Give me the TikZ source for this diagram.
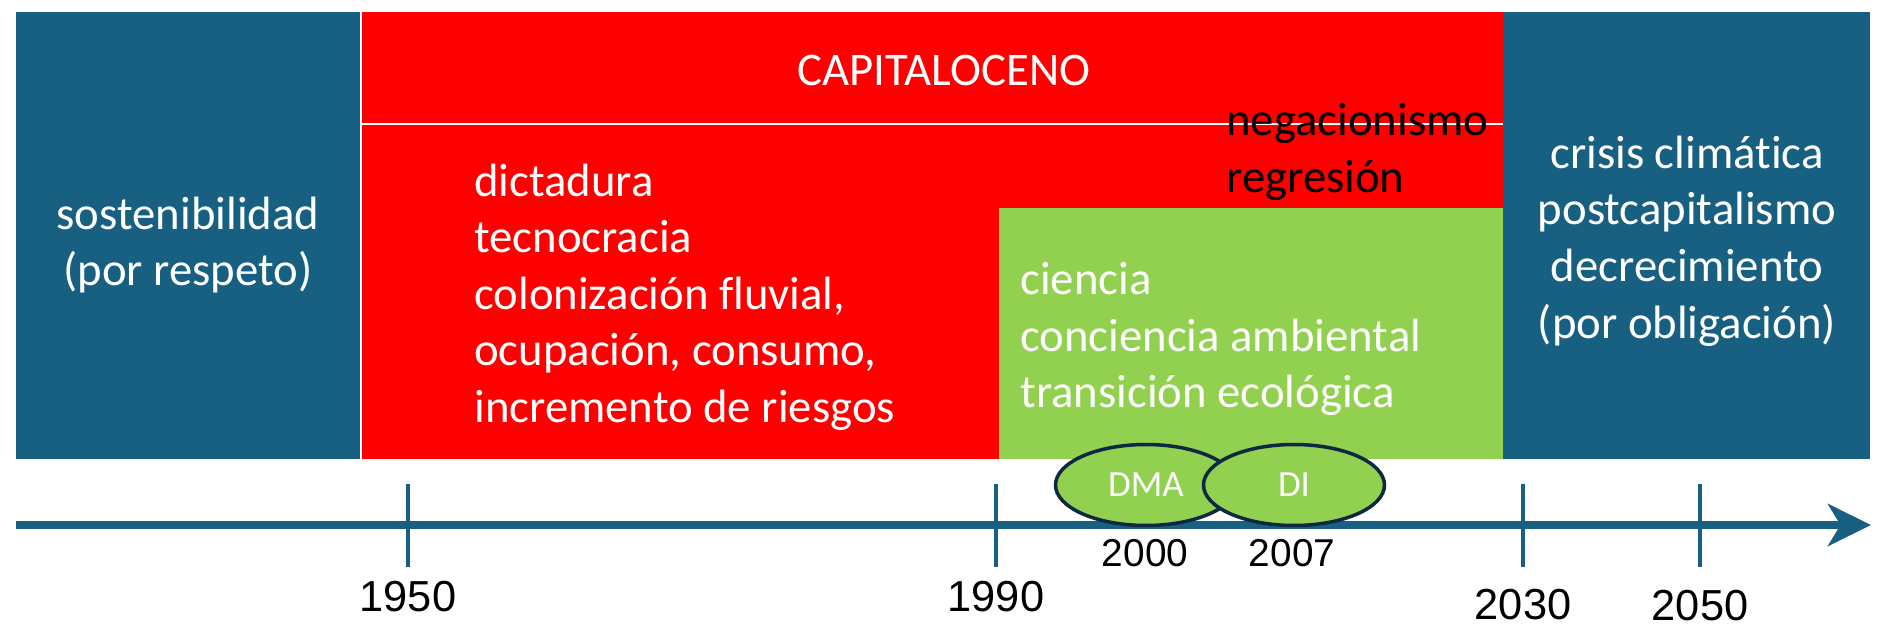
\documentclass[tikz,border=0pt]{standalone}
\usepackage{fontspec}
\setmainfont{Carlito}[Ligatures=NoCommon]
\newfontfamily\yearfont{Liberation Sans}
\usetikzlibrary{arrows.meta, shapes.geometric, fit, positioning}
\definecolor{deepblue}{RGB}{24,96,130}
\definecolor{capred}{RGB}{255,0,0}
\definecolor{leaf}{RGB}{146,208,80}
\definecolor{navy}{RGB}{14,40,65}

\begin{document}
\begin{tikzpicture}[x=0.02cm, y=-0.02cm,
    block/.style={inner sep=0pt, outer sep=0pt},
    blocktext/.style={text=white, align=left, inner sep=0pt, font=\fontsize{26.6}{32.2}\selectfont},
    year/.style={inner sep=0pt, font=\yearfont\fontsize{24.7}{29}\selectfont},
    smallyear/.style={year, font=\yearfont\fontsize{22.1}{26}\selectfont},
    era/.style={ellipse, draw=navy, line width=0.07cm, fill=leaf, text=white, inner sep=0pt,
                minimum width=3.62cm, minimum height=1.62cm, font=\fontsize{21}{25}\selectfont},
    axis/.style={deepblue, line width=0.16cm, -{Stealth[length=0.86cm, width=0.84cm, inset=0.25cm]}},
    yeartick/.style={deepblue, line width=0.08cm}]

    \useasboundingbox (0,0) rectangle (1893,635);

    % periods
    \node[block, fill=deepblue, fit={(16,12) (360,459)}]   (past)    {};
    \node[block, fill=capred,   fit={(362,12) (1503,459)}] (capital) {};
    \node[block, fill=leaf,     fit={(999,208) (1503,459)}] (green)  {};
    \node[block, fill=deepblue, fit={(1503,12) (1870,459)}] (future) {};
    \draw[white, line width=0.03cm] (362,124) -- (1503,124);

    \node[blocktext, align=center] (pasttxt) at (188,245) {sostenibilidad\\(por respeto)};
    \node[blocktext] (captitle) at (944,70) {CAPITALOCENO};
    \node[blocktext, anchor=west] (captxt) at (474,297)
        {dictadura\\tecnocracia\\colonización fluvial,\\ocupación, consumo,\\incremento de riesgos};
    \node[blocktext, anchor=west, text=black] (denial) at (1226,152) {negacionismo\\regresión};
    \node[blocktext, anchor=west] (greentxt) at (1020,339)
        {ciencia\\conciencia ambiental\\transición ecológica};
    \node[blocktext, align=center] (futuretxt) at (1687,241)
        {crisis climática\\postcapitalismo\\decrecimiento\\(por obligación)};

    % timeline
    \coordinate (origin) at (16,525);
    \coordinate (tip)    at (1871,525);
    \draw[axis] (origin) -- (tip);

    \draw[yeartick] (408,484) -- (408,567);
    \draw[yeartick] (996,484) -- (996,567);
    \draw[yeartick] (1523,484) -- (1523,567);
    \draw[yeartick] (1700,484) -- (1700,567);

    \node[year] (y1950) at (408,597)  {1950};
    \node[year] (y1990) at (996,597)  {1990};
    \node[year] (y2030) at (1523,605) {2030};
    \node[year] (y2050) at (1700,606) {2050};

    \node[era] (dma) at (1146,485) {DMA};
    \node[era] (di)  at (1294,485) {DI};
    \node[smallyear] (y2000) at (1145,553) {2000};
    \node[smallyear] (y2007) at (1292,553) {2007};
\end{tikzpicture}
\end{document}
